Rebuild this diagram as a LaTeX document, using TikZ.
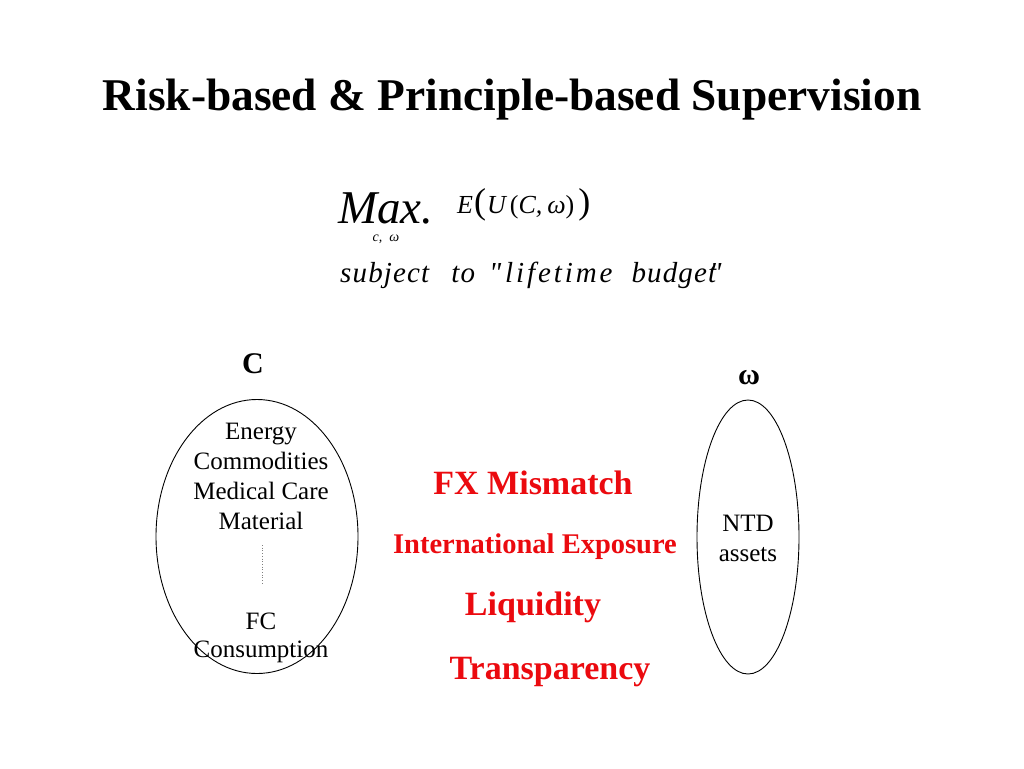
\documentclass[tikz,border=0pt]{standalone}
\usepackage{fontspec}
\setmainfont{Liberation Serif}
\newfontfamily\budgetfont{Liberation Serif}[LetterSpace=4]
\usetikzlibrary{shapes.geometric}
\definecolor{riskred}{RGB}{235,10,15}
\newcommand{\setfs}[1]{\fontsize{#1}{#1}\selectfont}
\tikzset{
  headline/.style={anchor=base, font={\setfs{45.4}\bfseries}},
  setlabel/.style={anchor=base, font={\setfs{30}\bfseries}},
  item/.style={anchor=base, font={\setfs{25}}},
  risk/.style={anchor=base, text=riskred, font={\setfs{34}\bfseries}},
  bag/.style={draw, ellipse, line width=0.9pt, inner sep=0pt},
}
\begin{document}
\begin{tikzpicture}[x=1pt, y=-1pt, inner sep=0pt]
\useasboundingbox (0,0) rectangle (1024,768);
\node[headline] (title) at (512,110) {Risk-based \& Principle-based Supervision};

% the choice problem over consumption C and assets omega
\node[anchor=base west, text depth=0pt, font={\setfs{47}\itshape}] (max) at (338,223) {Max.};
\node[anchor=base, text height=7pt, font={\setfs{14}\itshape}] (maxsub) at (386,241) {c,\ \ ω};
\node[anchor=base west, font={\setfs{26}\itshape}] (objective) at (457,213) {E\kern1pt{\setfs{36}\upshape(}\kern1pt U\kern4pt{\upshape(}C,\kern5ptω{\upshape)}\kern4pt{\setfs{36}\upshape)}};
\node[anchor=base west, font={\budgetfont\setfs{29}\itshape}] (budget) at (340,282) {subject\kern22pt to\kern14pt\char34\kern4pt{\addfontfeature{LetterSpace=10}lifetime}\kern19pt budget\kern-7pt\char34};

\node[setlabel] (clabel) at (253,373) {C};
\node[setlabel] (wlabel) at (749,384) {ω};
\node[bag, minimum width=202pt, minimum height=274pt] (cbag) at (257,536.5) {};
\node[bag, minimum width=102pt, minimum height=274pt] (wbag) at (748,537) {};

\node[item] (energy) at (261,439) {Energy};
\node[item] (commod) at (261,469) {Commodities};
\node[item] (medical) at (261,499) {Medical Care};
\node[item] (material) at (261,529) {Material};
\node[item] (fc) at (261,629) {FC};
\node[item] (consume) at (261,657) {Consumption};
\coordinate (dottop) at (262,545);
\coordinate (dotbot) at (262,585);
\draw[dotted, gray, line width=0.7pt] (dottop) -- (dotbot);

\node[item] (ntd) at (748,531) {NTD};
\node[item] (assets) at (748,561) {assets};

% risks between the two sets
\node[risk] (fx) at (533,494) {FX Mismatch};
\node[risk, font={\setfs{28.5}\bfseries}] (intl) at (535,553) {International Exposure};
\node[risk] (liq) at (533,615) {Liquidity};
\node[risk] (transp) at (550,679) {Transparency};
\end{tikzpicture}
\end{document}
